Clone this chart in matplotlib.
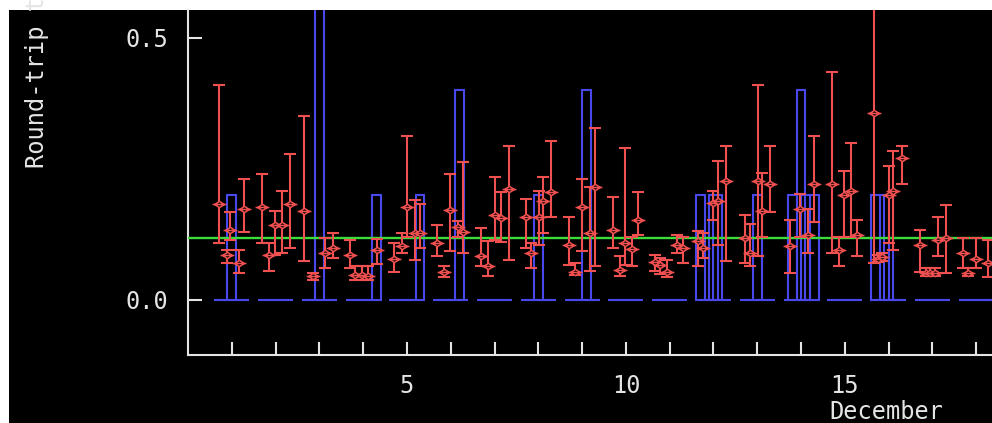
import numpy as np
import matplotlib
matplotlib.use("Agg")
import matplotlib.pyplot as plt
from matplotlib.path import Path
from matplotlib.patches import Rectangle

# round-trip time per probe (day of December, mean, low, high) in seconds
rtt_day = [0.70, 0.88, 0.97, 1.17, 1.29, 1.70, 1.85, 1.98, 2.15, 2.32, 2.66, 2.85,
           3.12, 3.31, 3.71, 3.82, 3.97, 4.11, 4.31, 4.70, 4.88, 4.99, 5.18, 5.30,
           5.69, 5.85, 5.98, 6.16, 6.29, 6.68, 6.86, 7.02, 7.14, 7.33, 7.72, 7.83,
           8.01, 8.11, 8.30, 8.71, 8.84, 9.00, 9.18, 9.29, 9.71, 9.86, 9.98, 10.15,
           10.28, 10.66, 10.78, 10.93, 11.16, 11.31, 11.65, 11.77, 11.99, 12.10, 12.29, 12.72,
           12.83, 13.01, 13.10, 13.30, 13.74, 13.97, 14.16, 14.29, 14.70, 14.86, 14.98, 15.15,
           15.27, 15.67, 15.76, 15.85, 16.00, 16.10, 16.31, 16.71, 16.85, 16.95, 17.05, 17.13,
           17.30, 17.70, 17.82, 17.99, 18.27]
rtt_mean = [0.183, 0.086, 0.134, 0.070, 0.173, 0.177, 0.086, 0.143, 0.143, 0.183, 0.169, 0.046,
            0.090, 0.100, 0.086, 0.048, 0.048, 0.045, 0.095, 0.078, 0.102, 0.177, 0.127, 0.127,
            0.108, 0.054, 0.172, 0.140, 0.129, 0.084, 0.065, 0.162, 0.156, 0.211, 0.158, 0.089,
            0.158, 0.188, 0.205, 0.105, 0.054, 0.177, 0.127, 0.216, 0.134, 0.057, 0.108, 0.097,
            0.153, 0.072, 0.066, 0.054, 0.104, 0.099, 0.112, 0.099, 0.185, 0.188, 0.226, 0.118,
            0.089, 0.226, 0.169, 0.221, 0.103, 0.173, 0.124, 0.221, 0.221, 0.095, 0.200, 0.207,
            0.124, 0.357, 0.078, 0.081, 0.200, 0.207, 0.270, 0.105, 0.051, 0.051, 0.051, 0.115,
            0.118, 0.089, 0.051, 0.078, 0.070]
rtt_low = [0.109, 0.070, 0.115, 0.051, 0.129, 0.109, 0.056, 0.086, 0.089, 0.100, 0.074, 0.038,
           0.060, 0.080, 0.060, 0.038, 0.038, 0.038, 0.069, 0.054, 0.090, 0.120, 0.076, 0.099,
           0.084, 0.044, 0.094, 0.120, 0.089, 0.064, 0.046, 0.115, 0.111, 0.076, 0.099, 0.060,
           0.105, 0.128, 0.158, 0.067, 0.048, 0.094, 0.056, 0.065, 0.099, 0.046, 0.067, 0.065,
           0.124, 0.056, 0.050, 0.044, 0.089, 0.070, 0.065, 0.080, 0.153, 0.105, 0.074, 0.070,
           0.065, 0.084, 0.120, 0.167, 0.051, 0.120, 0.089, 0.148, 0.089, 0.065, 0.121, 0.121,
           0.084, 0.070, 0.072, 0.075, 0.108, 0.095, 0.221, 0.054, 0.045, 0.045, 0.045, 0.084,
           0.051, 0.060, 0.045, 0.060, 0.044]
rtt_high = [0.410, 0.095, 0.168, 0.095, 0.231, 0.240, 0.109, 0.169, 0.207, 0.279, 0.351, 0.052,
            0.118, 0.128, 0.115, 0.064, 0.064, 0.064, 0.117, 0.109, 0.128, 0.313, 0.191, 0.183,
            0.143, 0.064, 0.240, 0.150, 0.264, 0.138, 0.113, 0.235, 0.205, 0.294, 0.192, 0.108,
            0.207, 0.235, 0.304, 0.158, 0.070, 0.230, 0.216, 0.328, 0.196, 0.083, 0.289, 0.120,
            0.205, 0.086, 0.080, 0.076, 0.124, 0.121, 0.132, 0.128, 0.207, 0.265, 0.294, 0.162,
            0.144, 0.410, 0.242, 0.294, 0.153, 0.202, 0.173, 0.313, 0.434, 0.121, 0.245, 0.299,
            0.153, 0.700, 0.085, 0.090, 0.256, 0.284, 0.294, 0.134, 0.060, 0.060, 0.060, 0.158,
            0.181, 0.118, 0.060, 0.118, 0.115]
rtt_average = 0.119

# packet loss: probing windows each day, nonzero loss fractions
loss_window_days = list(range(18))
loss_time = [1.0, 3.0, 4.3, 5.3, 6.2, 8.0, 9.1, 11.7, 12.0, 12.1,
             13.0, 13.8, 14.0, 14.1, 14.3, 15.7, 15.9, 16.0]
loss_value = [0.2, 1.0, 0.2, 0.2, 0.4, 0.2, 0.4, 0.2, 0.2, 0.2,
              0.2, 0.2, 0.4, 0.2, 0.2, 0.2, 0.2, 0.2]

RED = '#f05050'
BLUE = '#4848ec'
GREEN = '#3cdc3c'
FG = '#e4e4e4'

plt.rcParams['font.family'] = ['DejaVu Sans Mono', 'DejaVu Sans']

fig = plt.figure(figsize=(9.92, 4.23), dpi=100, facecolor='white')
fig.patches.append(Rectangle((9 / 992, 0), 1, 413 / 423, transform=fig.transFigure,
                             facecolor='black', edgecolor='none', zorder=-10))
ax = fig.add_axes([188 / 992, 68 / 423, 1 - 188 / 992, 345 / 423])
ax.set_facecolor('black')

# loss samples every 0.1 day inside each daily window
sample_t = []
sample_v = []
lookup = {round(t, 1): v for t, v in zip(loss_time, loss_value)}
for d in loss_window_days:
    for k in range(7):
        t = round(d + 0.7 + 0.1 * k, 1)
        sample_t.append(t)
        sample_v.append(lookup.get(t, 0.0))
ax.bar(sample_t, sample_v, width=0.2, fill=False, edgecolor=BLUE, linewidth=1.5, zorder=2)

ax.axhline(rtt_average, color=GREEN, linewidth=1.7, zorder=3)

# open diamond with a horizontal stroke through it
diamond = Path([(-0.7, 0), (0, 0.45), (0.7, 0), (0, -0.45), (-0.7, 0), (-1, 0), (1, 0)],
               [Path.MOVETO, Path.LINETO, Path.LINETO, Path.LINETO, Path.CLOSEPOLY,
                Path.MOVETO, Path.LINETO])
mean = np.array(rtt_mean)
yerr = [mean - np.array(rtt_low), np.array(rtt_high) - mean]
ax.errorbar(rtt_day, mean, yerr=yerr, fmt='none', ecolor=RED, elinewidth=1.5,
            capsize=4.5, capthick=1.5, zorder=4)
ax.plot(rtt_day, mean, linestyle='none', marker=diamond, markersize=10,
        markerfacecolor='black', markeredgecolor=RED, markeredgewidth=1.1, zorder=5)

ax.set_xlim(0, 18.36)
ax.set_ylim(-0.105, 0.553)
ax.set_yticks([0.0, 0.5])
ax.set_yticklabels(['0.0', '0.5'])
ax.set_xticks([5, 10, 15])
ax.set_xticks(range(1, 19), minor=True)

for side in ['top', 'right']:
    ax.spines[side].set_visible(False)
for side in ['left', 'bottom']:
    ax.spines[side].set_color(FG)
    ax.spines[side].set_linewidth(1.5)

ax.tick_params(axis='both', which='both', direction='in', color=FG, width=1.5,
               labelcolor=FG, labelsize=17)
ax.tick_params(axis='y', length=10, pad=14)
ax.tick_params(axis='x', which='both', length=9.5, pad=14)

fig.text(37 / 992, 1 - 168 / 423, 'Round-trip time (seconds)', rotation=90,
         ha='center', va='bottom', color=FG, fontsize=17)
fig.text(886 / 992, 4 / 423, 'December', ha='center', va='baseline', color=FG, fontsize=17)

fig.savefig('out.png', dpi=100, facecolor=fig.get_facecolor())
